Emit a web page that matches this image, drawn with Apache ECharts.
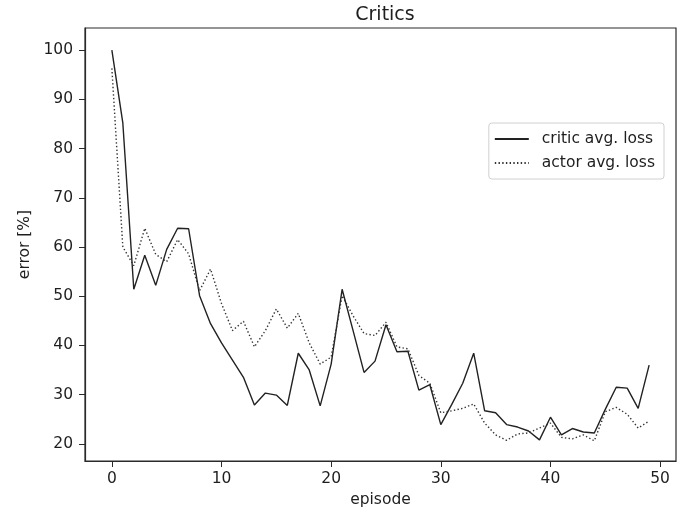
<!DOCTYPE html>
<html>
<head>
<meta charset="utf-8">
<title>Critics</title>
<script src="https://cdn.jsdelivr.net/npm/echarts@6/dist/echarts.min.js"></script>
<style>
  html, body { margin: 0; padding: 0; background: #fff; }
  #chart { width: 694px; height: 517px; }
</style>
</head>
<body>
<div id="chart"></div>
<script>
// Training episodes
const episodes = [0,1,2,3,4,5,6,7,8,9,10,11,12,13,14,15,16,17,18,19,20,21,22,23,24,
  25,26,27,28,29,30,31,32,33,34,35,36,37,38,39,40,41,42,43,44,45,46,47,48,49];

// Average critic loss per episode (error %)
const criticLoss = [100, 85.2, 51.4, 58.3, 52.2, 59.5, 63.8, 63.7, 50.1, 44.4,
  40.5, 37.0, 33.5, 27.9, 30.3, 29.9, 27.8, 38.4, 35.0, 27.7,
  36.2, 51.4, 43.0, 34.5, 36.8, 44.2, 38.7, 38.8, 30.9, 32.0,
  23.9, 28.0, 32.3, 38.4, 26.7, 26.3, 23.9, 23.4, 22.6, 20.8,
  25.4, 21.8, 23.1, 22.4, 22.2, 27.0, 31.5, 31.3, 27.2, 36.0];

// Average actor loss per episode (error %)
const actorLoss = [96.3, 60.0, 56.2, 63.8, 58.5, 57.0, 61.5, 58.6, 51.1, 55.5,
  48.5, 43.0, 44.9, 39.7, 43.0, 47.4, 43.5, 46.5, 40.5, 36.2,
  37.6, 50.1, 46.0, 42.4, 42.0, 44.7, 39.7, 39.3, 33.9, 32.3,
  26.3, 26.7, 27.2, 28.1, 24.2, 21.8, 20.7, 22.0, 22.2, 23.2,
  24.2, 21.3, 21.0, 21.8, 20.6, 26.5, 27.4, 26.0, 23.2, 24.6];

const xTicks = [0, 10, 20, 30, 40, 50];
const yTicks = [20, 30, 40, 50, 60, 70, 80, 90, 100];

const seriesNames = ['critic avg. loss', 'actor avg. loss'];

const font = 'DejaVu Sans';
const ink = '#1e1e1e';
const labelSize = 15.5;

const chart = echarts.init(document.getElementById('chart'), null, { renderer: 'canvas' });

chart.setOption({
  animation: false,
  backgroundColor: '#fff',
  title: {
    text: 'Critics',
    left: 380,
    top: 1,
    textAlign: 'center',
    textStyle: { fontFamily: font, fontSize: 19, fontWeight: 'normal', color: ink }
  },
  grid: {
    left: 85, right: 18, top: 28, bottom: 56,
    show: true, borderColor: '#2a2a2a', borderWidth: 1.2, backgroundColor: 'transparent'
  },
  legend: {
    orient: 'vertical',
    right: 30,
    top: 123,
    itemWidth: 34,
    itemHeight: 14,
    itemGap: 8,
    padding: [8, 9, 8, 5],
    borderColor: '#d0d0d0',
    borderWidth: 1,
    borderRadius: 3,
    itemStyle: { opacity: 0 },
    textStyle: { fontFamily: font, fontSize: labelSize, color: ink, padding: [0, 0, 0, 8] },
    data: seriesNames
  },
  xAxis: {
    type: 'value',
    min: -2.45,
    max: 51.45,
    name: 'episode',
    nameLocation: 'middle',
    nameGap: 31,
    nameTextStyle: { fontFamily: font, fontSize: labelSize, color: ink },
    splitLine: { show: false },
    axisLine: { show: true, onZero: false, lineStyle: { color: '#2a2a2a', width: 1.2 } },
    axisTick: { show: true, length: 6, customValues: xTicks, lineStyle: { color: '#2a2a2a' } },
    axisLabel: { customValues: xTicks, fontFamily: font, fontSize: labelSize, color: ink, margin: 10 }
  },
  yAxis: {
    type: 'value',
    min: 16.5,
    max: 104.5,
    name: 'error [%]',
    nameLocation: 'middle',
    nameGap: 42,
    nameTextStyle: { fontFamily: font, fontSize: labelSize, color: ink },
    splitLine: { show: false },
    axisLine: { show: true, onZero: false, lineStyle: { color: '#2a2a2a', width: 1.2 } },
    axisTick: { show: true, length: 6, customValues: yTicks, lineStyle: { color: '#2a2a2a' } },
    axisLabel: { customValues: yTicks, fontFamily: font, fontSize: labelSize, color: ink, margin: 12 }
  },
  series: [
    {
      name: seriesNames[0],
      type: 'line',
      symbol: 'none',
      data: episodes.map((e, i) => [e, criticLoss[i]]),
      lineStyle: { color: '#222', width: 1.4, type: 'solid' },
      itemStyle: { color: '#222' }
    },
    {
      name: seriesNames[1],
      type: 'line',
      symbol: 'none',
      data: episodes.map((e, i) => [e, actorLoss[i]]),
      lineStyle: { color: '#333', width: 1.4, type: [1.4, 2.3] },
      itemStyle: { color: '#333' }
    }
  ]
});
</script>
</body>
</html>
